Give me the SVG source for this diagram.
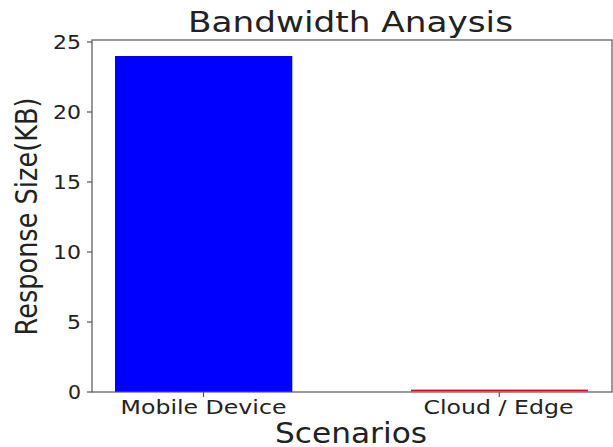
<svg xmlns="http://www.w3.org/2000/svg" width="613" height="447" viewBox="0 0 613 447">
<style>
text{font-family:"DejaVu Sans","Liberation Sans",sans-serif;fill:#222}
.tick{font-size:19px}
.yt{text-anchor:end}
.xt{text-anchor:middle}
.spine{fill:none;stroke:#555;stroke-width:1.2}
.tk{stroke:#555;stroke-width:1.2}
</style>
<rect x="0" y="0" width="613" height="447" fill="#fff"/>
<g id="bars">
<rect id="bar-mobile" x="115" y="56" width="177.3" height="336" fill="#0000ff"/>
<rect id="bar-cloud" x="411" y="389.6" width="177" height="1.8" fill="#e8001c"/>
</g>
<g id="axes">
<rect class="spine" x="92" y="40" width="520" height="352"/>
<g id="yticks">
<line class="tk" x1="87" y1="392" x2="92" y2="392"/>
<line class="tk" x1="87" y1="322" x2="92" y2="322"/>
<line class="tk" x1="87" y1="252" x2="92" y2="252"/>
<line class="tk" x1="87" y1="182" x2="92" y2="182"/>
<line class="tk" x1="87" y1="112" x2="92" y2="112"/>
<line class="tk" x1="87" y1="42" x2="92" y2="42"/>
<text class="tick yt" x="81" y="399" textLength="13" lengthAdjust="spacingAndGlyphs">0</text>
<text class="tick yt" x="81" y="329" textLength="14" lengthAdjust="spacingAndGlyphs">5</text>
<text class="tick yt" x="81" y="259" textLength="28" lengthAdjust="spacingAndGlyphs">10</text>
<text class="tick yt" x="81" y="189" textLength="28" lengthAdjust="spacingAndGlyphs">15</text>
<text class="tick yt" x="81" y="119" textLength="28" lengthAdjust="spacingAndGlyphs">20</text>
<text class="tick yt" x="81" y="49" textLength="28" lengthAdjust="spacingAndGlyphs">25</text>
</g>
<g id="xticks">
<line class="tk" x1="203.5" y1="392" x2="203.5" y2="397"/>
<line class="tk" x1="499.3" y1="392" x2="499.3" y2="397"/>
<text class="tick xt" x="203.5" y="414" textLength="166" lengthAdjust="spacingAndGlyphs">Mobile Device</text>
<text class="tick xt" x="498.5" y="414" textLength="150" lengthAdjust="spacingAndGlyphs">Cloud / Edge</text>
</g>
</g>
<g id="labels">
<text x="350.5" y="32" font-size="28" text-anchor="middle" textLength="325" lengthAdjust="spacingAndGlyphs">Bandwidth Anaysis</text>
<text x="351" y="443" font-size="27.5" text-anchor="middle" textLength="152" lengthAdjust="spacingAndGlyphs">Scenarios</text>
<text transform="translate(36.5,216.5) scale(1.15,1) rotate(-90)" x="0" y="0" font-size="25.5" text-anchor="middle" textLength="238" lengthAdjust="spacingAndGlyphs">Response Size(KB)</text>
</g>
</svg>
